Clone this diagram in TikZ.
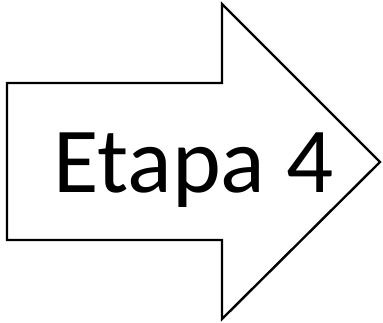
\documentclass[tikz,border=0pt]{standalone}
\usepackage{fontspec}
\setmainfont{Carlito}
\begin{document}
\begin{tikzpicture}[x=1pt,y=-1pt,
  arrowshape/.style={draw=black,line width=2.4pt,fill=white,line join=miter},
  label/.style={font=\fontsize{93}{100}\selectfont,inner sep=0pt,anchor=base west}]
\useasboundingbox (0,0) rectangle (383,323);
\draw[arrowshape] (7,83) -- (222,83) -- (222,4) -- (380,162) -- (222,319) -- (222,240) -- (7,240) -- cycle;
\node[label] (t) at (53,193) {Etapa 4};
\end{tikzpicture}
\end{document}
